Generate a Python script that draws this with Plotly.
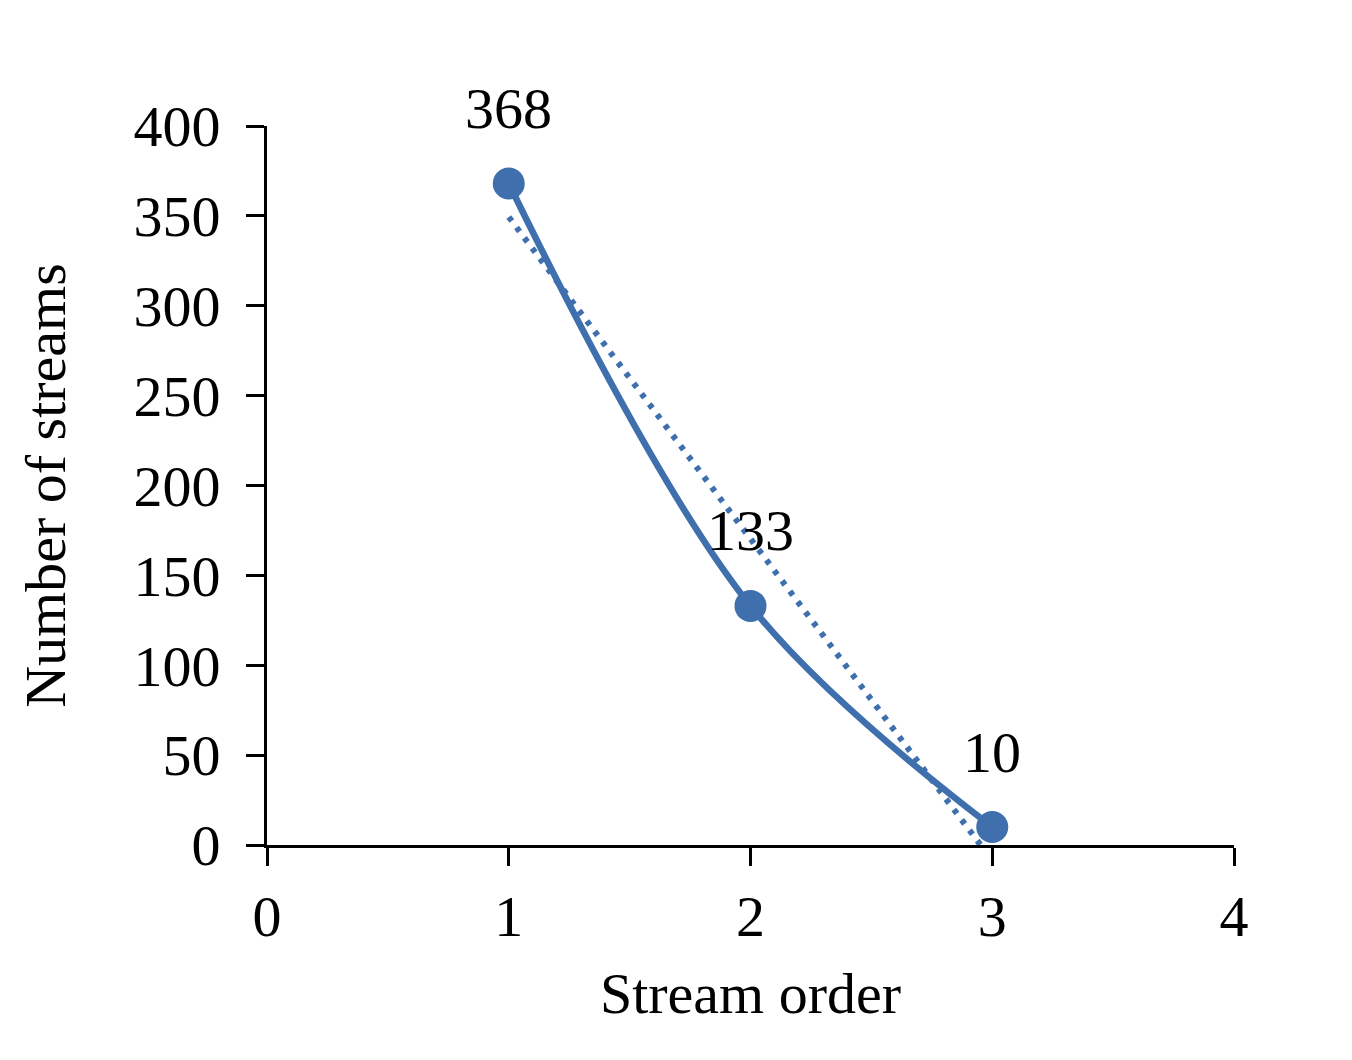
import numpy as np
import plotly.graph_objects as go

# Stream order vs number of streams
stream_order = [1, 2, 3]
n_streams    = [368, 133, 10]

BLUE = "#3F70AD"
FONT = "Liberation Serif"
FS   = 58

# linear trendline (least squares), as in the original spreadsheet chart
slope, intercept = np.polyfit(stream_order, n_streams, 1)
trend_x = [stream_order[0], stream_order[-1]]
trend_y = [slope * x + intercept for x in trend_x]

fig = go.Figure()

fig.add_trace(go.Scatter(
    x=trend_x, y=trend_y,
    mode="lines",
    line=dict(color=BLUE, width=6, dash="5px,8px"),
    hoverinfo="skip",
    showlegend=False,
))

fig.add_trace(go.Scatter(
    x=stream_order, y=n_streams,
    mode="lines+markers",
    line=dict(color=BLUE, width=6.5, shape="spline", smoothing=1),
    marker=dict(color=BLUE, size=32),
    cliponaxis=False,
    showlegend=False,
))

# data labels above each point
for x, y in zip(stream_order, n_streams):
    fig.add_annotation(
        x=x, y=y, text=str(y), showarrow=False,
        yshift=75, font=dict(family=FONT, size=FS, color="black"),
    )

# page body adds ~8px offset, so margins are trimmed accordingly
fig.update_layout(
    width=1352, height=1060,
    paper_bgcolor="white", plot_bgcolor="white",
    margin=dict(l=259, r=126, t=118, b=223),
    font=dict(family=FONT, size=FS, color="black"),
)

fig.update_xaxes(
    range=[0, 4], dtick=1, showgrid=False, zeroline=False,
    showline=True, linecolor="black", linewidth=3,
    ticks="outside", ticklen=18, tickwidth=3, tickcolor="black",
    title=dict(text="Stream order", font=dict(family=FONT, size=FS), standoff=25),
    tickfont=dict(family=FONT, size=FS),
)
fig.update_yaxes(
    range=[0, 400], dtick=50, showgrid=False, zeroline=False,
    showline=True, linecolor="black", linewidth=3,
    ticks="outside", ticklen=18, tickwidth=3, tickcolor="black",
    ticklabelstandoff=14,
    title=dict(text="Number of streams", font=dict(family=FONT, size=FS), standoff=50),
    tickfont=dict(family=FONT, size=FS),
)

fig.write_html("out.html")
